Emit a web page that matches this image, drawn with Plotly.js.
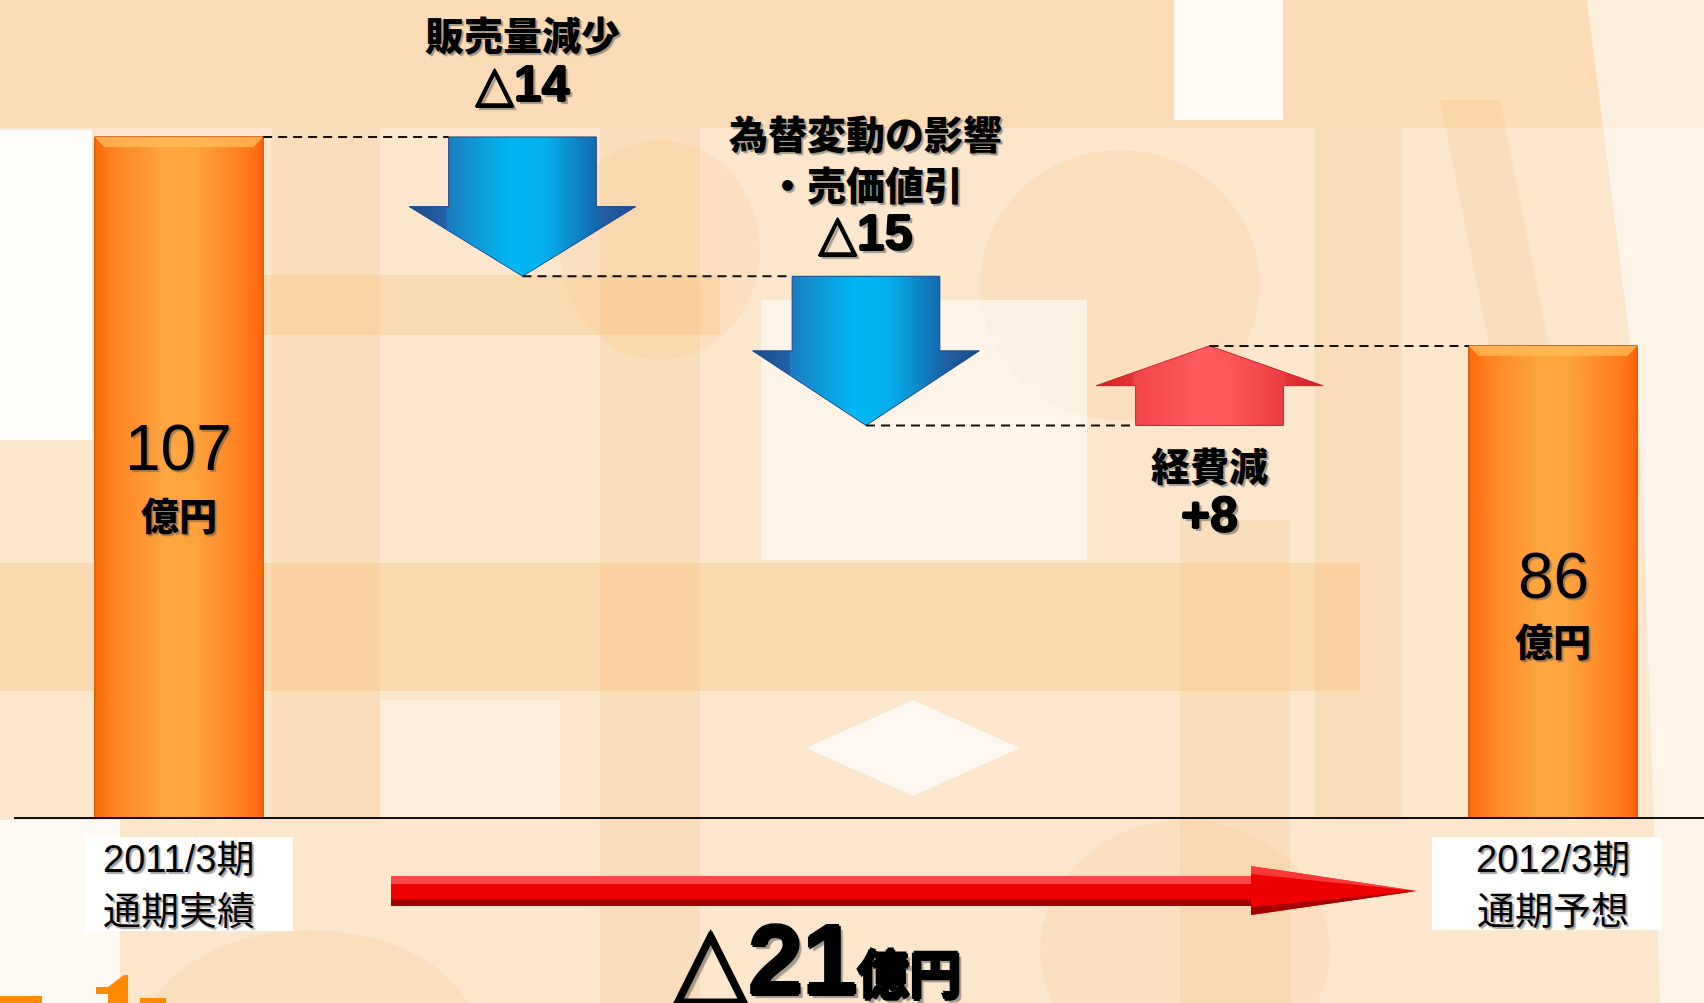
<!DOCTYPE html>
<html>
<head>
<meta charset="utf-8">
<script src="https://cdn.plot.ly/plotly-3.0.1.min.js"></script>
<style>
html,body{margin:0;padding:0;background:#fce6cc;}
#chart{width:1704px;height:1003px;}
</style>
</head>
<body>
<div id="chart"></div>
<script>
// ---------------- DATA ----------------
const categories = ["2011/3期 通期実績", "販売量減少", "為替変動の影響・売価値引", "経費減", "2012/3期 通期予想"];
const startValue = 107;          // 2011/3期 通期実績 (億円)
const changes = [-14, -15, 8];   // 販売量減少, 為替変動の影響・売価値引, 経費減
const endValue = 86;             // 2012/3期 通期予想 (億円)
const totalChange = -21;         // 差異 (億円)
const unitLabel = "億円";
const periodLabelLines = [["2011/3期", "通期実績"], ["2012/3期", "通期予想"]];
const changeLabelLines = [["販売量減少"], ["為替変動の影響", "・売価値引"], ["経費減"]];

// ---------------- LAYOUT CONSTANTS ----------------
const W = 1704, H = 1003;
const plotLeft = 14, axisY = 817;
const xRange = [-0.4803, 4.4396];
const yRange = [38.64, 120.77];
const barWidth = 0.49;
const shaftHalf = 0.215, headHalf = 0.33, headFrac = 0.5;

const px = x => x / W;          // pixel -> paper x
const py = y => 1 - y / H;      // pixel -> paper y

// cumulative levels
const levels = [startValue];
changes.forEach(c => levels.push(levels[levels.length - 1] + c));
const endIdx = categories.length - 1;
const fmtChange = v => (v < 0 ? "△" + Math.abs(v) : "+" + v);

const traces = [];

// --- orange total bars ---
const barX = [0, endIdx];
const barY = [startValue, endValue];
traces.push({
  type: 'bar', x: barX, y: barY, width: barWidth,
  marker: {color: '#FF7C16', line: {color: '#C9580A', width: 1}},
  hoverinfo: 'skip'
});
const orangeScale = [[0,'#FF680A'],[0.12,'#FF8423'],[0.42,'#FFA640'],[0.6,'#FFA33C'],[0.88,'#FF7E1E'],[1,'#FF6408']];
barX.forEach((cx, k) => {
  const v = barY[k], h = barWidth / 2;
  traces.push({
    type: 'scatter', mode: 'lines', hoverinfo: 'skip',
    x: [cx - h, cx + h, cx + h, cx - h, cx - h],
    y: [0, 0, v, v, 0],
    fill: 'toself', line: {width: 1, color: '#C9580A'},
    fillcolor: '#FF8C28',
    fillgradient: {type: 'horizontal', colorscale: orangeScale}
  });
  // top bevel
  const t = 1.0, d = 0.028;
  traces.push({
    type: 'scatter', mode: 'lines', hoverinfo: 'skip',
    x: [cx - h, cx + h, cx + h - d, cx - h + d, cx - h],
    y: [v, v, v - t, v - t, v],
    fill: 'toself', line: {width: 0},
    fillcolor: 'rgba(255,190,90,0.75)'
  });
});

// --- change arrows ---
const blueScale = [[0,'#1B4A8A'],[0.16,'#2160A6'],[0.17,'#1C7CC2'],[0.45,'#00B8F2'],[0.6,'#04B0EC'],[0.83,'#1468AC'],[0.84,'#2160A6'],[1,'#1B4A8A']];
const redScale = [[0,'#D51E26'],[0.16,'#E5333A'],[0.17,'#F2444A'],[0.45,'#FF5A5E'],[0.6,'#FF5558'],[0.83,'#EC3A40'],[0.84,'#E5333A'],[1,'#D51E26']];
changes.forEach((c, j) => {
  const cx = j + 1, from = levels[j], to = levels[j + 1];
  const mid = from + (to - from) * (1 - headFrac);
  traces.push({
    type: 'scatter', mode: 'lines', hoverinfo: 'skip',
    x: [cx - shaftHalf, cx + shaftHalf, cx + shaftHalf, cx + headHalf, cx, cx - headHalf, cx - shaftHalf, cx - shaftHalf],
    y: [from, from, mid, mid, to, mid, mid, from],
    fill: 'toself',
    line: {width: 1, color: c < 0 ? '#1B4A8A' : '#C8242B'},
    fillcolor: c < 0 ? '#10A0E0' : '#FF4D52',
    fillgradient: {type: 'horizontal', colorscale: c < 0 ? blueScale : redScale}
  });
});

// --- dashed connectors ---
const cx0 = [], cy0 = [];
for (let k = 0; k < levels.length; k++) {
  const xs = k === 0 ? barWidth / 2 : k;
  const xe = (k + 1 === endIdx) ? endIdx - barWidth / 2 : k + 1 - shaftHalf;
  cx0.push(xs, xe, null);
  cy0.push(levels[k], levels[k], null);
}
traces.push({
  type: 'scatter', mode: 'lines', hoverinfo: 'skip', connectgaps: false,
  x: cx0, y: cy0, line: {color: '#111', width: 2, dash: '9px,6px'}
});

// ---------------- DECOR SHAPES (background) ----------------
const shapes = [];
function rectPx(x0, y0, x1, y1, color) {
  shapes.push({type: 'rect', xref: 'paper', yref: 'paper', layer: 'below',
    x0: px(x0), x1: px(x1), y0: py(y0), y1: py(y1), fillcolor: color, line: {width: 0}});
}
function circPx(x0, y0, x1, y1, color) {
  shapes.push({type: 'circle', xref: 'paper', yref: 'paper', layer: 'below',
    x0: px(x0), x1: px(x1), y0: py(y0), y1: py(y1), fillcolor: color, line: {width: 0}});
}
function polyPx(pts, color) {
  const d = pts.map((p, i) => (i ? 'L' : 'M') + px(p[0]) + ',' + py(p[1])).join(' ') + ' Z';
  shapes.push({type: 'path', xref: 'paper', yref: 'paper', layer: 'below', path: d, fillcolor: color, line: {width: 0}});
}
const OR = a => `rgba(246,186,114,${a})`;
const WH = a => `rgba(255,255,255,${a})`;
// top band
rectPx(0, 0, 1704, 128, 'rgba(249,212,166,0.55)');
// orange strokes of the blurred glyphs
rectPx(0, 563, 1360, 691, OR(0.3));
rectPx(250, 275, 720, 335, OR(0.28));
rectPx(272, 128, 380, 819, OR(0.2));
rectPx(600, 128, 700, 1003, OR(0.2));
rectPx(1315, 128, 1402, 819, OR(0.22));
rectPx(1180, 520, 1290, 1003, OR(0.18));
circPx(980, 150, 1260, 420, OR(0.16));
circPx(560, 140, 760, 360, OR(0.15));
polyPx([[1440,100],[1500,100],[1620,700],[1560,700]], OR(0.2));
circPx(140, 930, 480, 1160, 'rgba(250,205,150,0.3)');
circPx(1040, 820, 1330, 1080, OR(0.14));
// white areas
rectPx(0, 130, 92, 440, WH(0.9));
rectPx(1174, 0, 1283, 120, WH(0.85));
polyPx([[1587,0],[1704,0],[1704,1003],[1660,1003],[1640,420]], WH(0.55));
rectPx(761, 300, 1087, 560, WH(0.55));
polyPx([[913,700],[1020,748],[913,796],[806,748]], WH(0.7));
rectPx(0, 820, 120, 1003, WH(0.75));
rectPx(380, 700, 560, 819, WH(0.3));

// period label white boxes
rectPx(85, 837, 293, 931, '#FFFFFF');
rectPx(1432, 837, 1662, 930, '#FFFFFF');

// big horizontal red arrow (total change)
polyPx([[391,876],[1251,876],[1251,866],[1417,891],[1251,915],[1251,906],[391,906]], '#EE0000');
polyPx([[391,876],[1251,876],[1251,884],[391,884]], 'rgba(255,90,90,0.8)');
polyPx([[391,899],[1251,899],[1251,906],[391,906]], 'rgba(150,0,0,0.85)');
polyPx([[1251,866],[1417,891],[1251,874]], 'rgba(255,80,80,0.7)');
polyPx([[1251,907],[1417,891],[1251,915]], 'rgba(150,0,0,0.85)');
// partial orange logo, bottom-left
rectPx(0, 996, 42, 1003, '#FF8A00');
polyPx([[96,987],[108,987],[124,975],[128,975],[128,1003],[108,1003],[108,994],[96,994]], '#FF8A00');
rectPx(140, 998, 166, 1003, '#FF8A00');

// ---------------- ANNOTATIONS ----------------
const JP = '"Noto Sans CJK JP", sans-serif';
const NUM = '"Liberation Sans", "DejaVu Sans", "Noto Sans CJK JP", sans-serif';
const NARROW = '"Liberation Sans Narrow", "Liberation Sans", sans-serif';
const shadow = '2px 2px 1px rgba(90,90,90,0.55)';
const heavy = s => `${s}px 0 0 #000, -${s}px 0 0 #000, 0 ${s}px 0 #000, 0 -${s}px 0 #000, ${s+2}px ${s+2}px 1px rgba(90,90,90,0.55)`;
const annotations = [];
function ann(text, x, xref, yPx, size, family, weight, sh) {
  annotations.push({
    text: text, x: x, xref: xref, y: py(yPx), yref: 'paper',
    xanchor: 'center', yanchor: 'middle', showarrow: false, align: 'center',
    font: {family: family, size: size, color: '#000', weight: weight, shadow: sh || shadow}
  });
}
// change labels: label lines + delta line in one text block
const labelCenterY = [58, 182, 489];
changeLabelLines.forEach((lines, j) => {
  const delta = '<span style="font-family:\'Liberation Sans\',\'DejaVu Sans\',\'Noto Sans CJK JP\';font-size:50px;font-weight:700;text-shadow:' +
                heavy(0.9) + '">' + fmtChange(changes[j]) + '</span>';
  ann(lines.concat([delta]).join('<br>'), j + 1, 'x', labelCenterY[j], 39, JP, 900);
});
// totals in bars
ann(String(startValue), 0, 'x', 448, 64, NARROW, 400);
ann(unitLabel, 0, 'x', 513, 38, JP, 900);
ann(String(endValue), endIdx, 'x', 576, 64, NARROW, 400);
ann(unitLabel, endIdx, 'x', 639, 38, JP, 900);
// period labels
[0, endIdx].forEach((ci, k) => {
  ann(periodLabelLines[k][0], ci, 'x', 859, 38, NUM, 400);
  ann(periodLabelLines[k][1], ci, 'x', 907, 38, JP, 400);
});
// total change
ann(fmtChange(totalChange) + '<span style="font-size:52px">' + unitLabel + '</span>', px(817), 'paper', 960, 98, NUM, 700, heavy(1.6));

const layout = {
  width: W, height: H,
  margin: {l: 0, r: 0, t: 0, b: 0},
  paper_bgcolor: '#FCE6CC',
  plot_bgcolor: 'rgba(0,0,0,0)',
  showlegend: false,
  barmode: 'overlay',
  xaxis: {domain: [plotLeft / W, 1], range: xRange, showgrid: false, zeroline: false,
          showticklabels: false, ticks: '', showline: true, linecolor: '#111', linewidth: 2, fixedrange: true},
  yaxis: {domain: [1 - axisY / H, 1], range: yRange, visible: false, fixedrange: true},
  shapes: shapes,
  annotations: annotations
};

Plotly.newPlot('chart', traces, layout, {displayModeBar: false, staticPlot: true});
</script>
</body>
</html>
